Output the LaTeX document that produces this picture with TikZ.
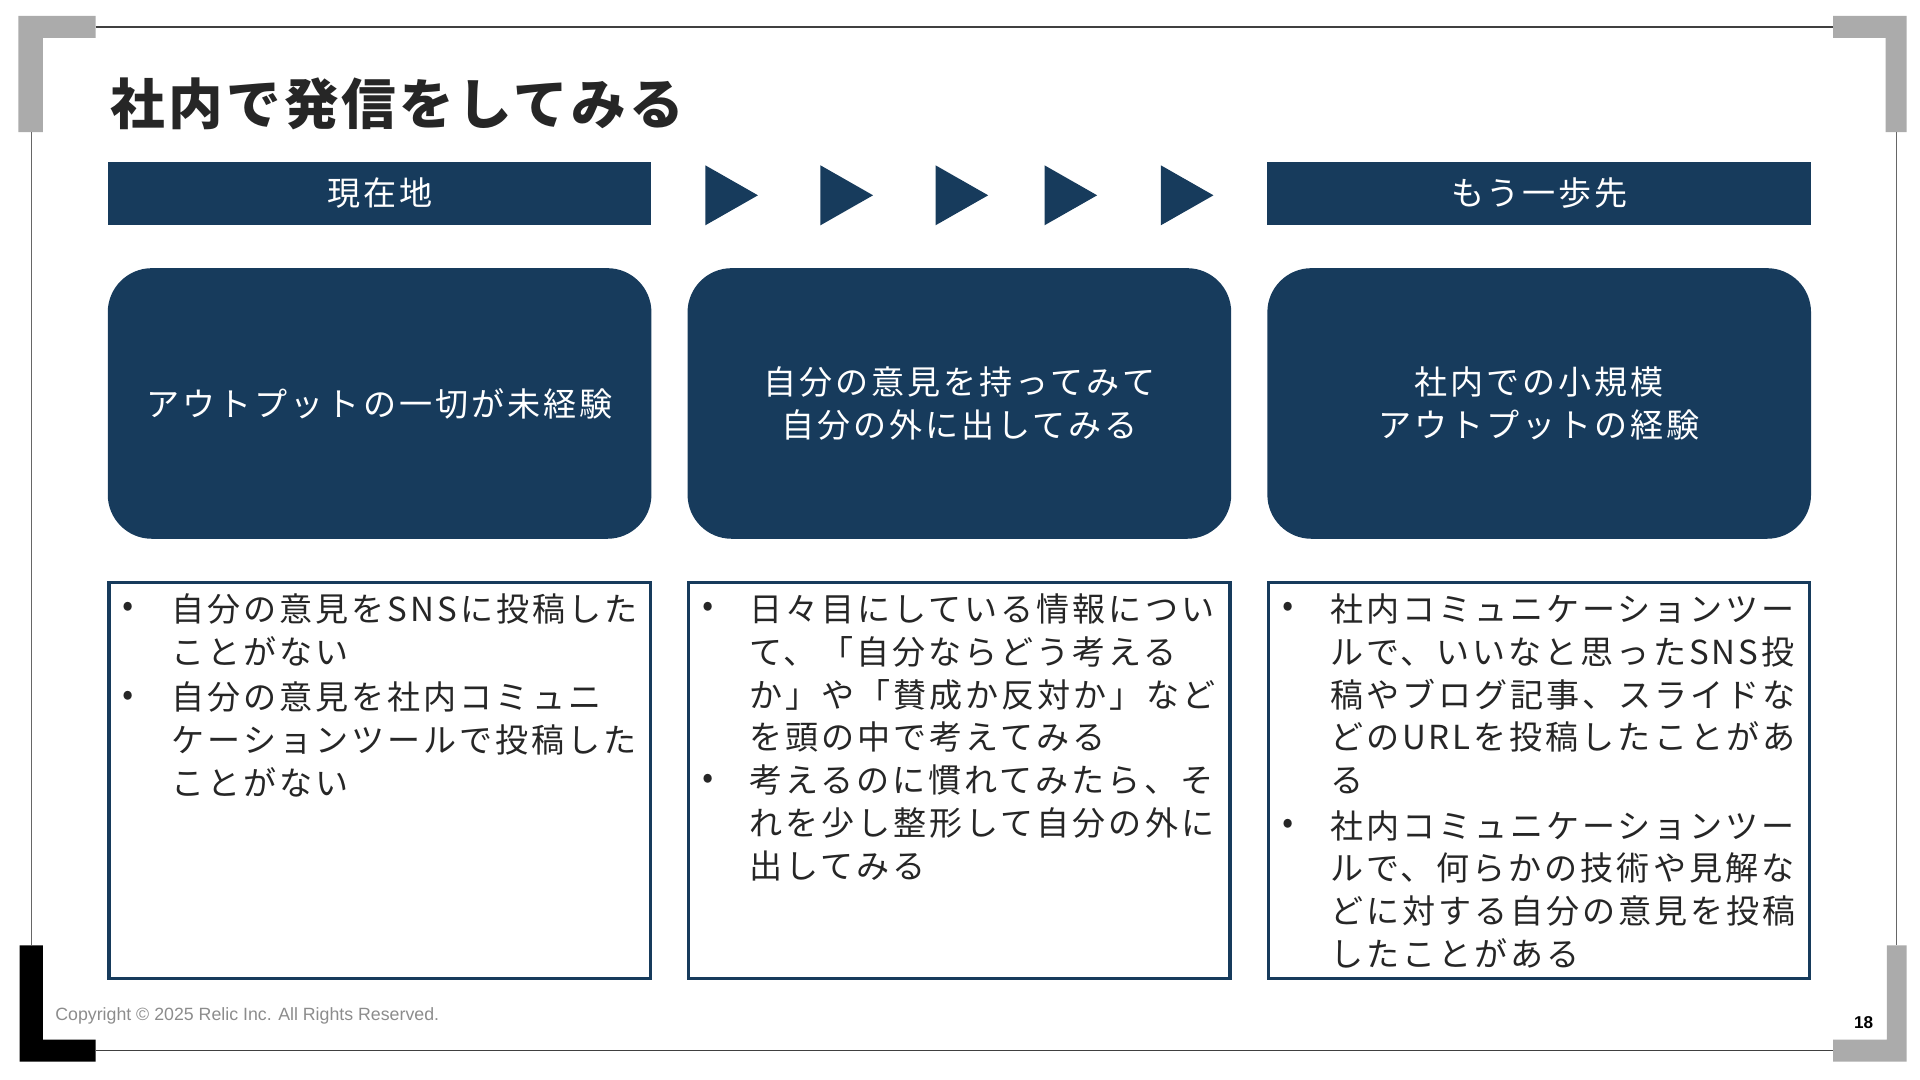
\documentclass[tikz,border=0pt]{standalone}
\usepackage{fontspec}
\newfontfamily\jpfont{Noto Sans CJK JP}[LetterSpace=9]
\newfontfamily\titlefont{Noto Sans CJK JP}[LetterSpace=6]
\newfontfamily\latinfont{Liberation Sans}
\definecolor{navy}{HTML}{173B5C}
\definecolor{bracketgray}{HTML}{ABABAB}
\definecolor{inkgray}{HTML}{262626}
\definecolor{rulegray}{HTML}{404040}
\definecolor{footgray}{HTML}{8C8C8C}
\tikzset{
  bodyfont/.style={font=\jpfont\fontsize{27}{35}\selectfont},
  headbar/.style={bodyfont, fill=navy, text=white, minimum width=444pt, minimum height=52pt, inner sep=0pt},
  stagebox/.style={bodyfont, fill=navy, text=white, rounded corners=36pt, minimum width=444pt, minimum height=221pt, align=center, inner sep=0pt},
  notebox/.style={draw=navy, line width=2.5pt, minimum width=442pt, minimum height=323pt, inner sep=0pt},
  bulletdot/.style={bodyfont, text=inkgray, inner sep=0pt},
  notetext/.style={bodyfont, text=inkgray, anchor=north west, align=left, inner sep=0pt, execute at begin node=\strut}
}
\begin{document}
\begin{tikzpicture}[x=1pt,y=-1pt]
\useasboundingbox (0,0) rectangle (1568,882);
\fill[bracketgray] (15,13) -- (78,13) -- (78,31) -- (35,31) -- (35,108) -- (15,108) -- cycle;
\fill[bracketgray] (1497,13) -- (1557,13) -- (1557,108) -- (1540,108) -- (1540,31) -- (1497,31) -- cycle;
\fill[black] (16,772) -- (35,772) -- (35,849) -- (78,849) -- (78,867) -- (16,867) -- cycle;
\fill[bracketgray] (1541,772) -- (1557,772) -- (1557,867) -- (1497,867) -- (1497,849) -- (1541,849) -- cycle;
\draw[rulegray, line width=1pt] (78,22) -- (1497,22) (78,858) -- (1497,858);
\draw[rulegray!80, line width=0.8pt] (26,108) -- (26,772) (1549,108) -- (1549,772);

\node[anchor=west, inner sep=0pt, text=inkgray, font=\titlefont\bfseries\fontsize{44.6}{50}\selectfont] (title) at (90,85) {社内で発信をしてみる};

\node[headbar] (now) at (310,158) {現在地};
\node[headbar] (next) at (1257,158) {もう一歩先};
\foreach \x in {576,670,764,853,948}{
  \fill[navy] (\x,135) -- (\x+43,159.5) -- (\x,184) -- cycle;
}

\node[stagebox] (stageA) at (310,329.5) {アウトプットの一切が未経験};
\node[stagebox] (stageB) at (783.5,329.5) {自分の意見を持ってみて\\自分の外に出してみる};
\node[stagebox] (stageC) at (1257,329.5) {社内での小規模\\アウトプットの経験};

\node[notebox] (noteA) at (310,637.5) {};
\node[notebox] (noteB) at (783.5,637.5) {};
\node[notebox] (noteC) at (1257,637.5) {};

\node[bulletdot] (dotA1) at (105,498) {•};
\node[notetext] (itemA1) at (140,484.5) {自分の意見をSNSに投稿した\\ことがない};
\node[bulletdot] (dotA2) at (105,570) {•};
\node[notetext] (itemA2) at (140,556.5) {自分の意見を社内コミュニ\\ケーションツールで投稿した\\ことがない};

\node[bulletdot] (dotB1) at (578,498) {•};
\node[notetext] (itemB1) at (612,484.5) {日々目にしている情報につい\\て、「自分ならどう考える\\か」や「賛成か反対か」など\\を頭の中で考えてみる};
\node[bulletdot] (dotB2) at (578,638) {•};
\node[notetext] (itemB2) at (612,624.5) {考えるのに慣れてみたら、そ\\れを少し整形して自分の外に\\出してみる};

\node[bulletdot] (dotC1) at (1052,498) {•};
\node[notetext] (itemC1) at (1086,484.5) {社内コミュニケーションツー\\ルで、いいなと思ったSNS投\\稿やブログ記事、スライドな\\どのURLを投稿したことがあ\\る};
\node[bulletdot] (dotC2) at (1052,675) {•};
\node[notetext] (itemC2) at (1086,661.5) {社内コミュニケーションツー\\ルで、何らかの技術や見解な\\どに対する自分の意見を投稿\\したことがある};

\node[anchor=west, inner sep=0pt, text=footgray, font=\latinfont\fontsize{14.5}{16}\selectfont] (copy) at (45,830) {Copyright © 2025 Relic Inc. All Rights Reserved.};
\node[inner sep=0pt, font=\latinfont\bfseries\fontsize{14}{16}\selectfont] (page) at (1522,835) {18};
\end{tikzpicture}
\end{document}
